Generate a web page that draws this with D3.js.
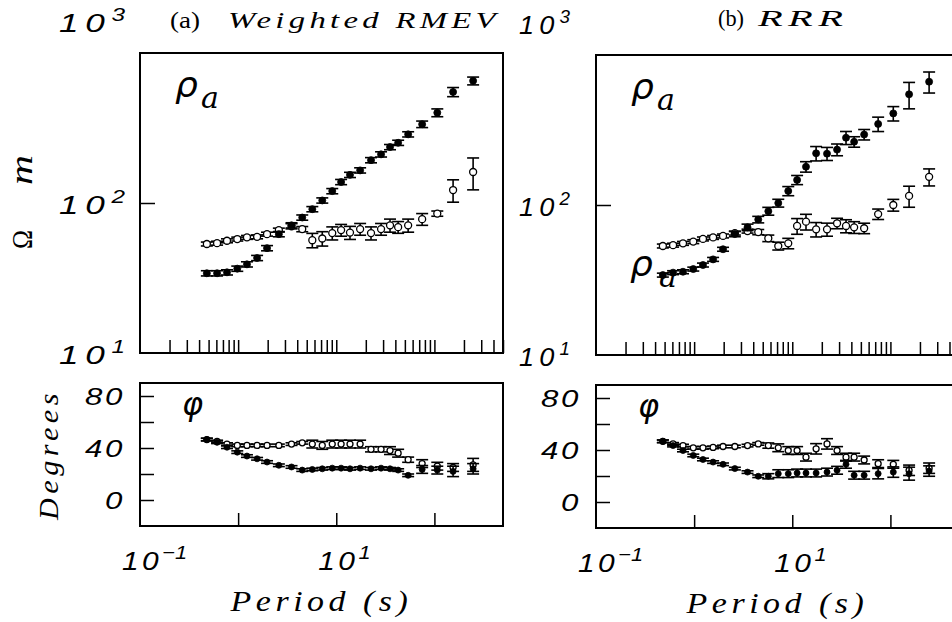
<!DOCTYPE html>
<html><head><meta charset="utf-8">
<script src="https://cdn.jsdelivr.net/npm/d3@7"></script>
<style>body{margin:0;background:#fff}</style>
</head><body>
<script>
// ---------------- data ----------------
const periods = [0.48, 0.61, 0.77, 0.98, 1.23, 1.56, 1.97, 2.6, 3.5, 4.5, 5.7, 7.2, 9.1, 11.2, 13.8, 17.5, 22.6, 28.6, 35.3, 42.7, 54, 75, 107, 155, 248];

// (a) Weighted RMEV
const rhoA_solid     = [34, 34, 34.5, 36.5, 39, 43, 50, 62, 71, 80, 91, 104, 120, 138, 154, 165, 193, 211, 236, 252, 287, 335, 400, 550, 652];
const rhoA_solid_err = [4, 4, 4, 4, 4, 4, 4, 4, 4, 4, 4, 4, 4, 4, 4, 4, 4, 4, 4, 4, 4, 5, 6, 7, 6];
const rhoA_open      = [53.3, 54, 56, 57.5, 59, 59.5, 62, 66, 70, 67, 56.5, 58, 63, 66, 63.5, 67, 63, 67, 71, 69, 71, 78, 85, 122, 161];
const rhoA_open_err  = [3, 3, 3, 3, 3, 3, 3, 3, 4, 4, 11, 11, 10, 9, 10, 9, 10, 9, 10, 9, 10, 9, 4, 17, 24];
const phA_solid      = [46.5, 44.4, 40.6, 36.8, 33.8, 31.7, 29.2, 26.7, 25.4, 23, 23.5, 24, 24.5, 24.5, 24, 24.5, 24, 24.5, 24, 23, 19, 23.5, 23, 22, 24];
const phA_solid_err  = [1, 1, 1, 1, 1, 1, 1, 1, 1, 1, 1, 1, 1, 1, 1, 1, 1, 1, 1, 1, 1, 3, 3, 4, 4];
const phA_open       = [46.5, 45, 43, 42, 42, 42, 42, 42, 43, 44, 43, 42, 43, 43, 43, 43, 39, 39, 38, 36, 31, 28, 26, 25, 27];
const phA_open_err   = [1, 1, 1, 1, 1, 1, 1, 1, 1, 1, 3, 3, 3, 3, 3, 3, 2, 2, 3, 3, 2, 3, 3, 3, 5];

// (b) RRR
const rhoB_solid     = [34.1, 35.4, 35.9, 37.4, 39.8, 43.4, 50.7, 64, 71, 80, 91, 103, 124, 147, 180, 221, 220, 234, 281, 264, 295, 347, 408, 547, 664];
const rhoB_solid_err = [3, 3, 3, 3, 3, 3, 3, 4, 5, 5, 6, 6, 7, 7, 8, 11, 10, 9, 10, 8, 8, 11, 11, 20, 16];
const rhoB_open      = [53.3, 54, 55.5, 57, 59.4, 60.8, 62.2, 65, 67, 66, 60, 53.3, 55.5, 72.5, 77.4, 68.8, 68.8, 75.5, 72.5, 71, 70, 87, 100, 115, 154];
const rhoB_open_err  = [3, 3, 3, 3, 3, 3, 3, 3, 3, 4, 5, 6, 8, 12, 12, 11, 10, 8, 10, 9, 8, 8, 9, 16, 13];
const phB_solid      = [46.7, 43.4, 39.6, 35.8, 32.7, 30.7, 29, 25.7, 23, 19.8, 19.8, 21.8, 21.8, 22.3, 22.3, 22.3, 23, 24.4, 29, 20.6, 20.6, 21.8, 23, 21.8, 23.8];
const phB_solid_err  = [1, 1, 1, 1, 1, 1, 1, 1, 1, 1, 2, 3, 3, 3, 3, 3, 3, 3, 3, 3, 3, 4, 4, 5, 4];
const phB_open       = [46.7, 44.7, 43.4, 41.7, 41.7, 42, 42.7, 42.7, 43.4, 44.7, 43.4, 41.7, 39.6, 39.6, 34.5, 40.9, 44.7, 39.6, 34.5, 34.5, 32.3, 29.5, 29, 24.4, 26];
const phB_open_err   = [1, 1, 1, 1, 1, 1, 1, 1, 1, 1, 2, 3, 3, 3, 3, 4, 4, 3, 3, 3, 3, 3, 3, 4, 4];

const titleTags  = ["(a)", "(b)"];
const titleNames = ["Weighted RMEV", "RRR"];
const rhoTicks   = [10, 100, 1000];
const rhoMajor   = [100];
const phaseTicks = [0, 20, 40, 60, 80];
const phaseLabels = [0, 40, 80];
const periodMajor = [1, 10, 100];
const periodLabels = [0.1, 10];

// ---------------- drawing ----------------
const svg = d3.select("body").append("svg").attr("width", 952).attr("height", 622)
  .style("display", "block").style("background", "#fff");

const SANS = "Liberation Sans", SANS2 = "DejaVu Sans", SERIF = "Liberation Serif", SERIF2 = "DejaVu Serif";
const W = 363, RH = 300, PH = 143;

function label(parent, o) {
  const g = parent.append("g").attr("transform", `translate(${o.x},${o.y}) rotate(${o.rot || 0})`);
  const inner = g.append("g");
  const t = inner.append("text").attr("text-anchor", o.anchor || "start").attr("fill", "#000");
  o.parts.forEach(p => {
    t.append("tspan").text(p.text)
      .attr("font-size", p.size).attr("font-family", p.family)
      .attr("font-style", p.style || "normal")
      .attr("letter-spacing", p.ls || 0)
      .attr("dy", p.dy || 0);
  });
  let sx = o.sx || 1;
  if (o.width) { const w = t.node().getBBox().width; sx = o.width / w; }
  inner.attr("transform", `scale(${sx},1)`);
  return g;
}

const panels = [
  { x0: 140, yTop: 53, phTop: 383, tagX: 30, nameX: 88, nameW: 272, tagW: 30, titleY: 28,
    rhoLabW: 66, rhoGap: 15,
    rhoS: rhoA_solid, rhoSE: rhoA_solid_err, rhoO: rhoA_open, rhoOE: rhoA_open_err,
    phS: phA_solid, phSE: phA_solid_err, phO: phA_open, phOE: phA_open_err, extraRho: false, yTitles: true },
  { x0: 596, yTop: 55, phTop: 385, tagX: 122, nameX: 162, nameW: 92, tagW: 26, titleY: 26,
    rhoLabW: 51, rhoGap: 26,
    rhoS: rhoB_solid, rhoSE: rhoB_solid_err, rhoO: rhoB_open, rhoOE: rhoB_open_err,
    phS: phB_solid, phSE: phB_solid_err, phO: phB_open, phOE: phB_open_err, extraRho: true, yTitles: false }
];

function drawSeries(g, x, y, vals, errs, filled, logY, r, capW) {
  const pts = periods.map((p, i) => {
    const v = vals[i], e = errs[i];
    const lo = logY ? v * (1 - e / 100) : v - e;
    const hi = logY ? v * (1 + e / 100) : v + e;
    return { x: x(p), y: y(v), ylo: y(lo), yhi: y(hi) };
  });
  const eb = g.append("g").attr("stroke", "#000").attr("stroke-width", 1.6).attr("fill", "none");
  pts.forEach(d => {
    eb.append("line").attr("x1", d.x).attr("x2", d.x).attr("y1", d.ylo).attr("y2", d.yhi);
    eb.append("line").attr("x1", d.x - capW).attr("x2", d.x + capW).attr("y1", d.ylo).attr("y2", d.ylo);
    eb.append("line").attr("x1", d.x - capW).attr("x2", d.x + capW).attr("y1", d.yhi).attr("y2", d.yhi);
  });
  g.append("g").selectAll("circle").data(pts).join("circle")
    .attr("cx", d => d.x).attr("cy", d => d.y).attr("r", r)
    .attr("fill", filled ? "#000" : "#fff")
    .attr("stroke", "#000").attr("stroke-width", filled ? 0.8 : 1.3);
}

function styleAxis(sel) {
  sel.select(".domain").remove();
  sel.selectAll(".tick line").attr("stroke", "#000").attr("stroke-width", 1.5);
  sel.selectAll(".tick text").remove();
}

const minorTicks = [];
[-1, 0, 1, 2].forEach(n => { for (let k = 1; k <= 9; k++) { const v = k * Math.pow(10, n); if (v > 0.1 && v <= 500) minorTicks.push(+v.toPrecision(3)); } });

panels.forEach((P, pi) => {
  const g = svg.append("g");
  const x = d3.scaleLog().domain([0.1, 500]).range([P.x0, P.x0 + W]);
  const yR = d3.scaleLog().domain([10, 1000]).range([P.yTop + RH, P.yTop]);
  const yP = d3.scaleLinear().domain([-20, 90]).range([P.phTop + PH, P.phTop]);

  // --- resistivity panel ---
  g.append("g").attr("transform", `translate(0,${P.yTop + RH})`)
    .call(d3.axisBottom(x).tickValues(minorTicks).tickSize(-13).tickFormat(""))
    .call(styleAxis);
  g.append("g").attr("transform", `translate(${P.x0},0)`)
    .call(d3.axisLeft(yR).tickValues(rhoMajor).tickSize(-15).tickFormat(""))
    .call(styleAxis);

  drawSeries(g, x, yR, P.rhoO, P.rhoOE, false, true, 3.5, 6);
  drawSeries(g, x, yR, P.rhoS, P.rhoSE, true, true, 3.5, 6);

  g.append("rect").attr("x", P.x0).attr("y", P.yTop).attr("width", W).attr("height", RH)
    .attr("fill", "none").attr("stroke", "#000").attr("stroke-width", 2);

  rhoTicks.forEach(v => {
    const exp = Math.round(Math.log10(v));
    const off = v === 1000 ? -21 : 11;
    label(g, { x: P.x0 - P.rhoGap, y: yR(v) + off, anchor: "end", width: P.rhoLabW,
      parts: [{ text: "10", size: 26, family: SANS, style: "italic", ls: 5 },
              { text: String(exp), size: 18, family: SANS, style: "italic", dy: -11 }] });
  });

  // rho_a label
  label(g, { x: P.x0 + 35, y: P.yTop + 44, parts: [{ text: "ρ", size: 36, family: SANS2, style: "italic" }] });
  label(g, { x: P.x0 + 61, y: P.yTop + 55, parts: [{ text: "a", size: 30, family: SERIF2, style: "italic" }] });
  if (P.extraRho) {
    label(g, { x: P.x0 + 34, y: yR(30) - 7, parts: [{ text: "ρ", size: 36, family: SANS2, style: "italic" }] });
    label(g, { x: P.x0 + 63, y: yR(30) + 4, parts: [{ text: "a", size: 30, family: SERIF2, style: "italic" }] });
  }

  // --- phase panel ---
  g.append("g").attr("transform", `translate(0,${P.phTop + PH})`)
    .call(d3.axisBottom(x).tickValues(periodMajor).tickSize(-13).tickFormat(""))
    .call(styleAxis);
  g.append("g").attr("transform", `translate(${P.x0},0)`)
    .call(d3.axisLeft(yP).tickValues(phaseTicks).tickSize(-14).tickFormat(""))
    .call(styleAxis);

  drawSeries(g, x, yP, P.phO, P.phOE, false, false, 3, 6);
  drawSeries(g, x, yP, P.phS, P.phSE, true, false, 3, 6);

  g.append("rect").attr("x", P.x0).attr("y", P.phTop).attr("width", W).attr("height", PH)
    .attr("fill", "none").attr("stroke", "#000").attr("stroke-width", 2);

  phaseLabels.forEach(v => {
    label(g, { x: P.x0 - 15, y: yP(v) + 9, anchor: "end", sx: 1.3,
      parts: [{ text: String(v), size: 24, family: SANS, style: "italic", ls: 2 }] });
  });
  periodLabels.forEach(v => {
    const exp = Math.round(Math.log10(v));
    label(g, { x: x(v) - 18, y: P.phTop + PH + 44, sx: 1.15,
      parts: [{ text: "10", size: 26, family: SANS, style: "italic", ls: 3 },
              { text: exp < 0 ? "−" + Math.abs(exp) : String(exp), size: 19, family: SANS, style: "italic", dy: -11 }] });
  });

  label(g, { x: P.x0 + 42, y: P.phTop + 32, parts: [{ text: "φ", size: 32, family: SANS2, style: "italic" }] });

  // titles
  label(g, { x: P.x0 + P.tagX, y: P.titleY, width: P.tagW,
    parts: [{ text: titleTags[pi], size: 24, family: SERIF }] });
  label(g, { x: P.x0 + P.nameX, y: P.titleY, width: P.nameW,
    parts: [{ text: titleNames[pi], size: 23, family: SERIF, style: "italic", ls: 3 }] });

  label(g, { x: P.x0 + W / 2, y: P.phTop + PH + 85, anchor: "middle", width: 183,
    parts: [{ text: "Period (s)", size: 30, family: SERIF, style: "italic", ls: 4 }] });

  if (P.yTitles) {
    label(g, { x: 58, y: P.phTop + PH / 2, rot: -90, anchor: "middle", width: 132,
      parts: [{ text: "Degrees", size: 27, family: SERIF, style: "italic", ls: 4 }] });
    label(g, { x: 32, y: yR(57), rot: -90, anchor: "middle", width: 19,
      parts: [{ text: "Ω", size: 30, family: SERIF }] });
    label(g, { x: 32, y: yR(166), rot: -90, anchor: "middle", width: 30,
      parts: [{ text: "m", size: 32, family: SERIF, style: "italic" }] });
  }
});
</script>
</body></html>
